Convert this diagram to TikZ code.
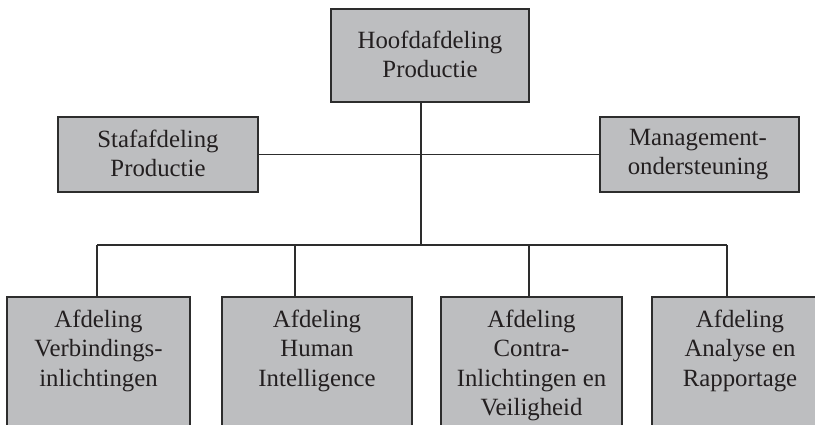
\documentclass[tikz,border=0pt]{standalone}
\usepackage{fontspec}
\setmainfont{Liberation Serif}
\definecolor{boxfill}{RGB}{189,190,192}
\definecolor{boxline}{RGB}{45,45,45}
\definecolor{inktext}{RGB}{35,31,32}
\tikzset{
  unit/.style={draw=boxline, fill=boxfill, line width=1.4pt, rectangle,
               inner sep=0pt, outer sep=0pt, anchor=north west},
  caption/.style={anchor=north, align=center, inner sep=0pt, text=inktext,
                  font=\fontsize{24.8}{29.5}\selectfont},
  link/.style={draw=boxline, line width=1.1pt}
}
% top edge of each caption's first line sits 18pt above its baseline
\newcommand{\firstline}{\rule{0pt}{18pt}}
\begin{document}
\begin{tikzpicture}[x=1pt, y=-1pt]
  \useasboundingbox (0,0) rectangle (815,424);
  \clip (0,0) rectangle (815,424);

  % department boxes
  \node[unit, minimum width=198, minimum height=93] (hoofd) at (331,9) {};
  \node[unit, minimum width=200, minimum height=75] (staf)  at (58,117) {};
  \node[unit, minimum width=199, minimum height=75] (mgmt)  at (600,117) {};
  \node[unit, minimum width=183, minimum height=160] (verb)  at (7,297) {};
  \node[unit, minimum width=190, minimum height=160] (humint) at (222,297) {};
  \node[unit, minimum width=181, minimum height=160] (contra) at (441,297) {};
  \node[unit, minimum width=176, minimum height=160] (analyse) at (652,297) {};

  % captions
  \node[caption] (thoofd) at (430,30) {\firstline Hoofdafdeling\\Productie};
  \node[caption] (tstaf)  at (158,129) {\firstline Stafafdeling\\Productie};
  \node[caption] (tmgmt)  at (698,127) {\firstline Management-\\ondersteuning};
  \node[caption] (tverb)  at (98.5,309) {\firstline Afdeling\\Verbindings-\\inlichtingen};
  \node[caption] (thum)   at (317,309) {\firstline Afdeling\\Human\\Intelligence};
  \node[caption] (tcon)   at (531.5,309) {\firstline Afdeling\\Contra-\\Inlichtingen en\\Veiligheid};
  \node[caption] (tana)   at (740,309) {\firstline Afdeling\\Analyse en\\Rapportage};

  % junctions of the connector tree
  \coordinate (spine) at (421,245);
  \coordinate (c1) at (97,245);
  \coordinate (c2) at (295,245);
  \coordinate (c3) at (529,245);
  \coordinate (c4) at (727,245);

  % connectors
  \draw[link] (staf.east) -- (mgmt.west);
  \draw[link] (hoofd.south -| spine) -- (spine);
  \draw[link] (c1) -- (c4);
  \draw[link] (c1) -- (c1 |- verb.north);
  \draw[link] (c2) -- (c2 |- humint.north);
  \draw[link] (c3) -- (c3 |- contra.north);
  \draw[link] (c4) -- (c4 |- analyse.north);
\end{tikzpicture}
\end{document}
